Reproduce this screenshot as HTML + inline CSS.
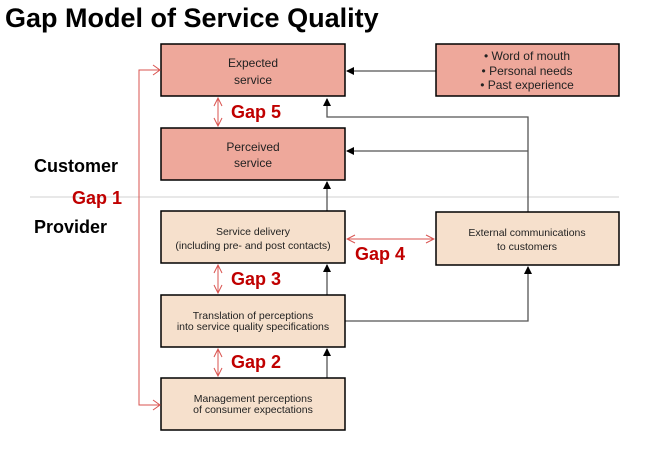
<!DOCTYPE html>
<html><head><meta charset="utf-8"><style>
body{margin:0;background:#fff;}
svg text{font-family:"Liberation Sans",Arial,sans-serif;}
</style></head><body>
<svg width="659" height="462" viewBox="0 0 659 462" xmlns="http://www.w3.org/2000/svg">
<defs>
<marker id="ab" markerWidth="8" markerHeight="8" refX="7" refY="4" orient="auto" markerUnits="userSpaceOnUse"><path d="M0,0 L8,4 L0,8 z" fill="#000"/></marker>
<marker id="ar" markerWidth="10" markerHeight="10" refX="9" refY="5" orient="auto-start-reverse" markerUnits="userSpaceOnUse"><path d="M1,1 L9,5 L1,9" fill="none" stroke="#d9534f" stroke-width="1"/></marker>
</defs>
<text x="5" y="27" font-size="27" font-weight="bold" fill="#000">Gap Model of Service Quality</text>
<line x1="30" y1="197" x2="619" y2="197" stroke="#d0d0d0" stroke-width="1"/>
<text x="34" y="172" font-size="18" font-weight="bold">Customer</text>
<text x="34" y="233" font-size="18" font-weight="bold">Provider</text>
<text x="72" y="204" font-size="18" font-weight="bold" fill="#c00000">Gap 1</text>
<g stroke="#555" stroke-width="1.3" fill="none">
<line x1="436" y1="71" x2="347" y2="71" marker-end="url(#ab)"/>
<polyline points="528,212 528,117 327,117 327,99" marker-end="url(#ab)"/>
<line x1="528" y1="151" x2="347" y2="151" marker-end="url(#ab)"/>
<line x1="327" y1="211" x2="327" y2="182" marker-end="url(#ab)"/>
<line x1="327" y1="295" x2="327" y2="265" marker-end="url(#ab)"/>
<line x1="327" y1="378" x2="327" y2="349" marker-end="url(#ab)"/>
<polyline points="345,321 528,321 528,267" marker-end="url(#ab)"/>
</g>
<g stroke="#000" stroke-width="1.5">
<rect x="161" y="44" width="184" height="52" fill="#eea89b"/>
<rect x="436" y="44" width="183" height="52" fill="#eea89b"/>
<rect x="161" y="128" width="184" height="52" fill="#eea89b"/>
<rect x="161" y="211" width="184" height="52" fill="#f6e0cc"/>
<rect x="436" y="212" width="183" height="53" fill="#f6e0cc"/>
<rect x="161" y="295" width="184" height="52" fill="#f6e0cc"/>
<rect x="161" y="378" width="184" height="52" fill="#f6e0cc"/>
</g>
<g font-size="12" text-anchor="middle" fill="#222">
<text x="253" y="67">Expected</text><text x="253" y="84">service</text>
<text x="527" y="60">• Word of mouth</text><text x="527" y="75">• Personal needs</text><text x="527" y="89">• Past experience</text>
<text x="253" y="151">Perceived</text><text x="253" y="167">service</text>
</g>
<g font-size="10.5" text-anchor="middle" fill="#222">
<text x="253" y="235">Service delivery</text><text x="253" y="249">(including pre- and post contacts)</text>
<text x="527" y="236">External communications</text><text x="527" y="250">to customers</text>
<text x="253" y="319">Translation of perceptions</text><text x="253" y="330">into service quality specifications</text>
<text x="253" y="402">Management perceptions</text><text x="253" y="413">of consumer expectations</text>
</g>
<g stroke="#d9534f" stroke-width="1" fill="none">
<polyline points="159,70 139,70 139,405 159,405"/>
<path d="M153,65 L160,70 L153,75 M153,400 L160,405 L153,410"/>
<line x1="218" y1="98" x2="218" y2="126" marker-start="url(#ar)" marker-end="url(#ar)"/>
<line x1="218" y1="265" x2="218" y2="293" marker-start="url(#ar)" marker-end="url(#ar)"/>
<line x1="218" y1="349" x2="218" y2="376" marker-start="url(#ar)" marker-end="url(#ar)"/>
<line x1="347" y1="239" x2="434" y2="239" marker-start="url(#ar)" marker-end="url(#ar)"/>
</g>
<g font-size="18" font-weight="bold" fill="#c00000">
<text x="231" y="118">Gap 5</text>
<text x="231" y="285">Gap 3</text>
<text x="231" y="368">Gap 2</text>
<text x="355" y="260">Gap 4</text>
</g>
</svg>
</body></html>
